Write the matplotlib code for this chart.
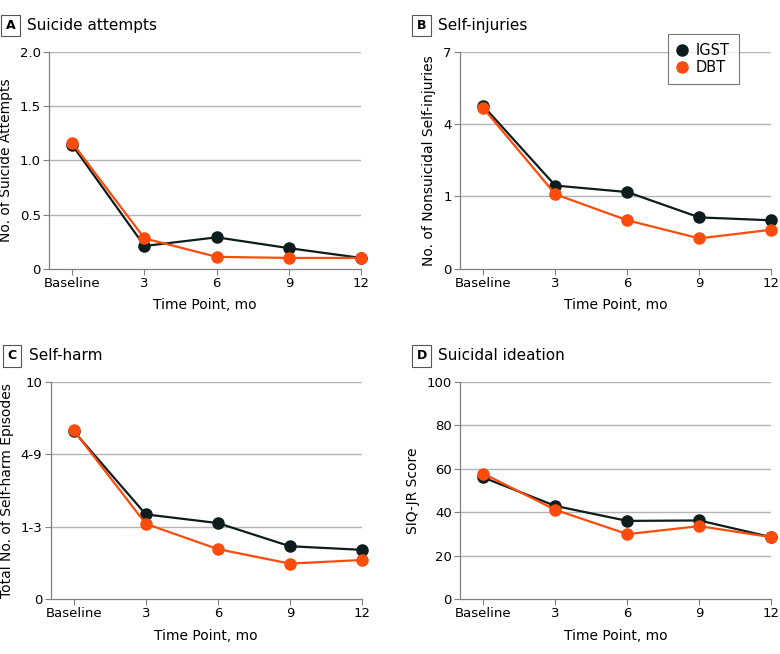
import matplotlib
matplotlib.use('Agg')
import matplotlib.pyplot as plt
from matplotlib.lines import Line2D

plt.rcParams['font.family'] = ['Liberation Sans Narrow', 'DejaVu Sans']

time_labels = ['Baseline', '3', '6', '9', '12']

# Panel A: suicide attempts
igst_attempts = [1.14, 0.21, 0.29, 0.19, 0.10]
dbt_attempts = [1.16, 0.28, 0.11, 0.10, 0.10]

# Panel B: self-injuries (axis positions; ticks 0, 1, 4, 7 equally spaced)
igst_injuries = [2.25, 1.15, 1.06, 0.71, 0.67]
dbt_injuries = [2.22, 1.03, 0.67, 0.42, 0.54]
injury_ticks = ['0', '1', '4', '7']

# Panel C: self-harm episodes (axis positions; category ticks)
igst_harm = [2.32, 1.17, 1.05, 0.73, 0.68]
dbt_harm = [2.33, 1.04, 0.69, 0.49, 0.54]
harm_ticks = ['0', '1-3', '4-9', '10']

# Panel D: suicidal ideation
igst_siq = [56.0, 42.9, 36.0, 36.2, 28.5]
dbt_siq = [57.8, 41.1, 29.9, 33.6, 28.5]

BLACK = '#0d1c1c'
ORANGE = '#fc4c0c'
GRID = '#b4b4b4'

fig = plt.figure(figsize=(7.8, 6.54), dpi=100)

panels = [
    ('A', 'Suicide attempts', [0.063, 0.589, 0.400, 0.332], igst_attempts, dbt_attempts,
     [0, 0.5, 1.0, 1.5, 2.0], ['0', '0.5', '1.0', '1.5', '2.0'], 'No. of Suicide Attempts'),
    ('B', 'Self-injuries', [0.590, 0.589, 0.399, 0.332], igst_injuries, dbt_injuries,
     [0, 1, 2, 3], injury_ticks, 'No. of Nonsuicidal Self-injuries'),
    ('C', 'Self-harm', [0.065, 0.084, 0.399, 0.332], igst_harm, dbt_harm,
     [0, 1, 2, 3], harm_ticks, 'Total No. of Self-harm Episodes'),
    ('D', 'Suicidal ideation', [0.590, 0.084, 0.399, 0.332], igst_siq, dbt_siq,
     [0, 20, 40, 60, 80, 100], ['0', '20', '40', '60', '80', '100'], 'SIQ-JR Score'),
]

x = list(range(len(time_labels)))

for letter, title, pos, igst, dbt, yt, ytl, ylabel in panels:
    ax = fig.add_axes(pos)
    ax.set_xlim(-0.32, 4)
    ax.set_ylim(yt[0], yt[-1])
    for t in yt[1:]:
        ax.axhline(t, color=GRID, lw=1.0, zorder=0)
    ax.plot(x, igst, color=BLACK, lw=1.6, marker='o', ms=8, clip_on=False, zorder=3)
    ax.plot(x, dbt, color=ORANGE, lw=1.6, marker='o', ms=8, clip_on=False, zorder=4)
    ax.set_xticks(x)
    ax.set_xticklabels(time_labels)
    ax.set_yticks(yt)
    ax.set_yticklabels(ytl)
    ax.tick_params(labelsize=9.5, color='#808080', length=4, width=0.8, pad=2)
    for s in ['top', 'right']:
        ax.spines[s].set_visible(False)
    for s in ['left', 'bottom']:
        ax.spines[s].set_color('#808080')
        ax.spines[s].set_linewidth(0.9)
    ax.set_xlabel('Time Point, mo', fontsize=10, labelpad=6)
    ax.set_ylabel(ylabel, fontsize=10, labelpad=5)

    # boxed panel letter and title
    fx = pos[0] - 0.061
    fy = pos[1] + pos[3] + 0.040
    fig.text(fx + 0.0115, fy, letter, fontsize=9, fontweight='bold', ha='center', va='center',
             bbox=dict(boxstyle='square,pad=0.35', fc='white', ec='#555555', lw=0.8))
    fig.text(fx + 0.033, fy, title, fontsize=11, ha='left', va='center')

    if letter == 'B':
        handles = [Line2D([], [], color=BLACK, marker='o', ms=8, lw=0),
                   Line2D([], [], color=ORANGE, marker='o', ms=8, lw=0)]
        leg = ax.legend(handles, ['IGST', 'DBT'], loc='upper right',
                        bbox_to_anchor=(0.918, 1.115), fontsize=10.5, frameon=True,
                        fancybox=False, edgecolor='#555555', handlelength=0.7,
                        handletextpad=0.6, borderpad=0.6, labelspacing=0.15,
                        borderaxespad=0.5)
        leg.get_frame().set_linewidth(0.8)

fig.savefig('out.png', dpi=100)
